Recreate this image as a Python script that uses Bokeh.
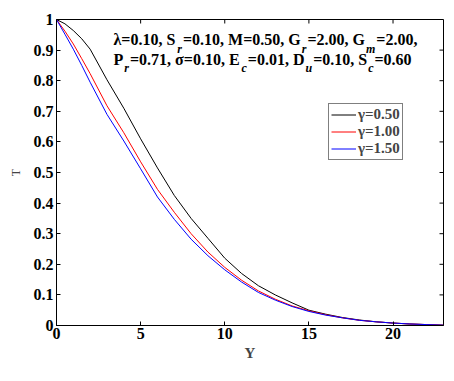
from bokeh.plotting import figure
from bokeh.models import FixedTicker, Label, Legend, LegendItem, Range1d
from bokeh.embed import file_html
from bokeh.resources import INLINE

# ---- data ----
Y_vals = [0, 0.5, 1, 1.5, 2, 3, 4, 5, 6, 7, 8, 9, 10, 11, 12, 13, 14, 15, 16, 17, 18, 19, 20, 21, 22, 23]
T_g050 = [1.0, 0.986, 0.964, 0.937, 0.903, 0.803, 0.71, 0.61, 0.515, 0.425, 0.35, 0.285, 0.22, 0.17, 0.13,
          0.10, 0.074, 0.05, 0.037, 0.026, 0.018, 0.012, 0.008, 0.005, 0.003, 0.001]
T_g100 = [1.0, 0.962, 0.92, 0.872, 0.823, 0.718, 0.63, 0.535, 0.445, 0.37, 0.30, 0.24, 0.19, 0.148, 0.113,
          0.086, 0.064, 0.048, 0.035, 0.025, 0.017, 0.012, 0.008, 0.005, 0.003, 0.001]
T_g150 = [1.0, 0.952, 0.903, 0.85, 0.795, 0.69, 0.603, 0.512, 0.42, 0.347, 0.282, 0.228, 0.182, 0.142, 0.108,
          0.083, 0.062, 0.046, 0.034, 0.025, 0.017, 0.012, 0.008, 0.005, 0.003, 0.001]
series_labels = ["\u03b3=0.50", "\u03b3=1.00", "\u03b3=1.50"]
series_colors = ["black", "red", "blue"]
x_ticks = [0, 5, 10, 15, 20]
y_ticks = [0, 0.1, 0.2, 0.3, 0.4, 0.5, 0.6, 0.7, 0.8, 0.9, 1.0]

# annotation: alternating (main text, subscript) pieces per line
line1_parts = [("\u03bb=0.10, S", "r"), ("=0.10, M=0.50, G", "r"), ("=2.00, G", "m"), ("=2.00,", "")]
line2_parts = [("P", "r"), ("=0.71, \u03c3=0.10, E", "c"), ("=0.01, D", "u"), ("=0.10, S", "c"), ("=0.60", "")]

FONT = "Liberation Serif"
W, H = 448, 370
LEFT, RIGHT, TOP, BOTTOM = 56, 5, 19, 45
FRAME_W = W - LEFT - RIGHT
FRAME_H = H - TOP - BOTTOM
X0, X1, Y0, Y1 = 0, 23, 0, 1

p = figure(width=W, height=H, output_backend="svg", toolbar_location=None,
           x_range=Range1d(X0, X1), y_range=Range1d(Y0, Y1),
           min_border_left=LEFT, min_border_right=RIGHT, min_border_top=TOP, min_border_bottom=BOTTOM,
           background_fill_color="white", border_fill_color="white")
p.outline_line_color = "black"
p.outline_line_width = 1
p.xgrid.visible = False
p.ygrid.visible = False

renderers = []
for vals, col in zip([T_g050, T_g100, T_g150], series_colors):
    r = p.line(Y_vals, vals, line_color=col, line_width=1)
    renderers.append(r)

for ax in (p.xaxis[0], p.yaxis[0]):
    ax.axis_line_color = "black"
    ax.major_tick_in = 4
    ax.major_tick_out = 0
    ax.minor_tick_line_color = None
    ax.major_label_text_font = FONT
    ax.major_label_text_font_style = "bold"
    ax.major_label_text_font_size = "16px"
    ax.major_label_text_color = "black"
p.xaxis[0].ticker = FixedTicker(ticks=x_ticks)
p.yaxis[0].ticker = FixedTicker(ticks=y_ticks)
p.xaxis[0].major_label_standoff = 2
p.yaxis[0].major_label_standoff = 3
p.xaxis[0].axis_label = "Y"
p.xaxis[0].axis_label_text_font = FONT
p.xaxis[0].axis_label_text_font_style = "bold"
p.xaxis[0].axis_label_text_font_size = "15px"
p.xaxis[0].axis_label_standoff = 3
p.yaxis[0].axis_label = "T"
p.yaxis[0].axis_label_text_font = FONT
p.yaxis[0].axis_label_text_font_style = "normal"
p.yaxis[0].axis_label_text_font_size = "12px"
p.yaxis[0].axis_label_standoff = 8

# tick marks on the top and right frame edges (mirroring the bottom / left ticks)
tick_dx = 4 / FRAME_W * (X1 - X0)
tick_dy = 4 / FRAME_H * (Y1 - Y0)
p.segment(x0=x_ticks, y0=[Y1] * len(x_ticks), x1=x_ticks, y1=[Y1 - tick_dy] * len(x_ticks),
          line_color="black", line_width=1)
p.segment(x0=[X1] * len(y_ticks), y0=y_ticks, x1=[X1 - tick_dx] * len(y_ticks), y1=y_ticks,
          line_color="black", line_width=1)

# legend
items = [LegendItem(label=lab, renderers=[r]) for lab, r in zip(series_labels, renderers)]
legend = Legend(items=items, location=(272, 165))
legend.label_text_font = FONT
legend.label_text_font_style = "bold"
legend.label_text_font_size = "15px"
legend.border_line_color = "black"
legend.border_line_width = 1
legend.padding = 2
legend.spacing = 0
legend.margin = 0
legend.glyph_width = 25
legend.glyph_height = 17
legend.label_height = 17
legend.label_standoff = 2
legend.background_fill_alpha = 1
p.add_layout(legend, "center")

# approximate advance widths (per 1000 em) for Times-like bold / bold-italic faces
BOLD_W = {" ": 250, ",": 250, ".": 250, "=": 570, "S": 556, "M": 944, "G": 778, "P": 611, "E": 667,
          "D": 722, "\u03bb": 550, "\u03c3": 600}
SUB_W = {"r": 389, "m": 778, "c": 444, "u": 556}

def text_w(s, table, size):
    return sum(table.get(ch, 500) for ch in s) * size / 1000.0

def px_to_x(px):
    return X0 + (px - LEFT) / FRAME_W * (X1 - X0)

def px_to_y(py):
    return Y1 - (py - TOP) / FRAME_H * (Y1 - Y0)

MAIN_SIZE, SUB_SIZE = 16, 12

def add_text(txt, px, py, size, style):
    p.add_layout(Label(x=px_to_x(px), y=px_to_y(py), text=txt, text_font=FONT, text_font_style=style,
                       text_font_size=f"{size}px", text_color="black", text_baseline="alphabetic",
                       text_align="left"))

def add_line(parts, start_px, base_py, sub_py):
    cur = start_px
    for main, sub in parts:
        add_text(main, cur, base_py, MAIN_SIZE, "bold")
        cur += text_w(main, BOLD_W, MAIN_SIZE)
        if sub:
            add_text(sub, cur + 1, sub_py, SUB_SIZE, "bold italic")
            cur += text_w(sub, SUB_W, SUB_SIZE) + 2

add_line(line1_parts, 113, 39, 48)
add_line(line2_parts, 113, 59, 67)

open("out.html", "w").write(file_html(p, INLINE))
